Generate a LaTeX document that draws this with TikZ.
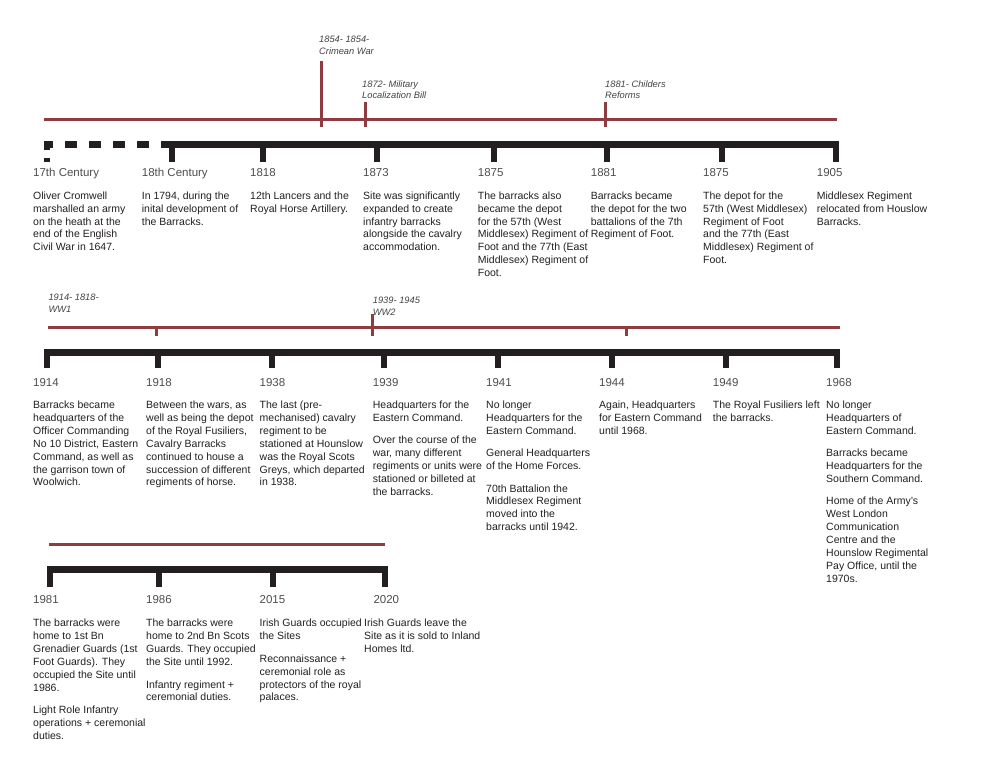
\documentclass[tikz,border=0pt]{standalone}
\usepackage{fontspec}
\setmainfont{Liberation Sans}
\definecolor{barred}{RGB}{142,60,64}
\definecolor{barblack}{RGB}{35,31,32}

\begin{document}
\begin{tikzpicture}[x=1pt,y=-1pt,
  year/.style={anchor=base west,inner sep=0,font=\fontsize{11.5}{13}\selectfont,text=barblack!80},
  desc/.style={anchor=north west,inner sep=0,align=left,font=\fontsize{10.5}{12.9}\selectfont,text=barblack},
  event/.style={anchor=north west,inner sep=0,align=left,font=\fontsize{9.3}{11.5}\selectfont\itshape,text=barblack!85},
  redline/.style={draw=barred,line width=3pt},
  mainline/.style={draw=barblack,line width=7pt},
  tick/.style={draw=barblack,line width=6pt}]

\useasboundingbox (0,0) rectangle (993,762);

% row 1, up to 1905
\coordinate (r1a) at (44,119.3);
\coordinate (r1b) at (837,119.3);
\draw[redline] (r1a) -- (r1b);
\coordinate (crim) at (321.7,61);
\coordinate (mil) at (365,102);
\coordinate (chil) at (605.7,102);
\draw[redline] (crim) -- (crim |- 0,127);
\draw[redline] (mil) -- (mil |- 0,127);
\draw[redline] (chil) -- (chil |- 0,127);
\node[event] (crimtxt) at (319,36) {1854- 1854-\\Crimean War};
\node[event] (miltxt) at (362,80.3) {1872- Military\\Localization Bill};
\node[event] (chiltxt) at (605,80.3) {1881- Childers\\Reforms};

\coordinate (b1a) at (44,144.5);
\coordinate (b1d) at (163,144.5);
\coordinate (b1b) at (839,144.5);
\draw[mainline,dash pattern=on 9pt off 12pt on 12pt off 12pt on 12pt off 12pt on 12pt off 12pt on 12pt off 12pt] (b1a) -- (b1d);
\draw[mainline] (b1d) -- (b1b);
\draw[tick,dash pattern=on 2pt off 8.5pt on 5pt] (47,148) -- (47,162);
\foreach \x/\n in {171.7/b,263/c,376.7/d,494/e,607/f,721.7/g,835.7/h}
  \draw[tick] (\x,144.5) coordinate (t1\n) -- ++(0,17.2);

\node[year] (y1a) at (33,176.7) {17th Century};
\node[year] (y1b) at (141.7,176.7) {18th Century};
\node[year] (y1c) at (250,176.7) {1818};
\node[year] (y1d) at (363,176.7) {1873};
\node[year] (y1e) at (477.7,176.7) {1875};
\node[year] (y1f) at (590.7,176.7) {1881};
\node[year] (y1g) at (703,176.7) {1875};
\node[year] (y1h) at (816.7,176.7) {1905};

\node[desc] (d1a) at (33,191.4) {Oliver Cromwell\\marshalled an army\\on the heath at the\\end of the English\\Civil War in 1647.};
\node[desc] (d1b) at (141.7,191.4) {In 1794, during the\\inital development of\\the Barracks.};
\node[desc] (d1c) at (250,191.4) {12th Lancers and the\\Royal Horse Artillery.};
\node[desc] (d1d) at (363,191.4) {Site was significantly\\expanded to create\\infantry barracks\\alongside the cavalry\\accommodation.};
\node[desc] (d1e) at (477.7,191.4) {The barracks also\\became the depot\\for the 57th (West\\Middlesex) Regiment of\\Foot and the 77th (East\\Middlesex) Regiment of\\Foot.};
\node[desc] (d1f) at (590.7,191.4) {Barracks became\\the depot for the two\\battalions of the 7th\\Regiment of Foot.};
\node[desc] (d1g) at (703,191.4) {The depot for the\\57th (West Middlesex)\\Regiment of Foot\\and the 77th (East\\Middlesex) Regiment of\\Foot.};
\node[desc] (d1h) at (816.7,191.4) {Middlesex Regiment\\relocated from Houslow\\Barracks.};

% row 2, 1914 to 1968
\coordinate (r2a) at (48,327.3);
\coordinate (r2b) at (840,327.3);
\draw[redline] (r2a) -- (r2b);
\coordinate (ww1) at (156,327.3);
\coordinate (ww2) at (372.7,314);
\coordinate (ww3) at (626,327.3);
\draw[redline] (ww1) -- (ww1 |- 0,336);
\draw[redline] (ww2) -- (ww2 |- 0,336);
\draw[redline] (ww3) -- (ww3 |- 0,336);
\node[event] (ww1txt) at (48.3,294) {1914- 1818-\\WW1};
\node[event] (ww2txt) at (372.7,297.3) {1939- 1945\\WW2};

\coordinate (b2a) at (43.7,352);
\coordinate (b2b) at (839.7,352);
\draw[mainline] (b2a) -- (b2b);
\foreach \x/\n in {46.7/a,157.7/b,271.7/c,384/d,498/e,612/f,726/g,836.7/h}
  \draw[tick] (\x,352) coordinate (t2\n) -- ++(0,16);

\node[year] (y2a) at (33,386.7) {1914};
\node[year] (y2b) at (146,386.7) {1918};
\node[year] (y2c) at (259.5,386.7) {1938};
\node[year] (y2d) at (372.7,386.7) {1939};
\node[year] (y2e) at (486,386.7) {1941};
\node[year] (y2f) at (599,386.7) {1944};
\node[year] (y2g) at (712.7,386.7) {1949};
\node[year] (y2h) at (826,386.7) {1968};

\node[desc] (d2a) at (33,400.7) {Barracks became\\headquarters of the\\Officer Commanding\\No 10 District, Eastern\\Command, as well as\\the garrison town of\\Woolwich.};
\node[desc] (d2b) at (146,400.7) {Between the wars, as\\well as being the depot\\of the Royal Fusiliers,\\Cavalry Barracks\\continued to house a\\succession of different\\regiments of horse.};
\node[desc] (d2c) at (259.5,400.7) {The last (pre-\\mechanised) cavalry\\regiment to be\\stationed at Hounslow\\was the Royal Scots\\Greys, which departed\\in 1938.};
\node[desc] (d2d) at (372.7,400.7) {Headquarters for the\\Eastern Command.\\[9.5pt]Over the course of the\\war, many different\\regiments or units were\\stationed or billeted at\\the barracks.};
\node[desc] (d2e) at (486,400.7) {No longer\\Headquarters for the\\Eastern Command.\\[9.5pt]General Headquarters\\of the Home Forces.\\[9.5pt]70th Battalion the\\Middlesex Regiment\\moved into the\\barracks until 1942.};
\node[desc] (d2f) at (599,400.7) {Again, Headquarters\\for Eastern Command\\until 1968.};
\node[desc] (d2g) at (712.7,400.7) {The Royal Fusiliers left\\the barracks.};
\node[desc] (d2h) at (826,400.7) {No longer\\Headquarters of\\Eastern Command.\\[9.5pt]Barracks became\\Headquarters for the\\Southern Command.\\[9.5pt]Home of the Army's\\West London\\Communication\\Centre and the\\Hounslow Regimental\\Pay Office, until the\\1970s.};

% row 3, 1981 to 2020
\coordinate (r3a) at (49,544.3);
\coordinate (r3b) at (385,544.3);
\draw[redline] (r3a) -- (r3b);

\coordinate (b3a) at (47,569.5);
\coordinate (b3b) at (387.7,569.5);
\draw[mainline] (b3a) -- (b3b);
\foreach \x/\n in {50/a,159/b,272.7/c,384.5/d}
  \draw[tick] (\x,569.5) coordinate (t3\n) -- ++(0,17.2);

\node[year] (y3a) at (33,603.3) {1981};
\node[year] (y3b) at (146,603.3) {1986};
\node[year] (y3c) at (259.5,603.3) {2015};
\node[year] (y3d) at (373.3,603.3) {2020};

\node[desc] (d3a) at (33,619.1) {The barracks were\\home to 1st Bn\\Grenadier Guards (1st\\Foot Guards). They\\occupied the Site until\\1986.\\[9.5pt]Light Role Infantry\\operations + ceremonial\\duties.};
\node[desc] (d3b) at (146,619.1) {The barracks were\\home to 2nd Bn Scots\\Guards. They occupied\\the Site until 1992.\\[9.5pt]Infantry regiment +\\ceremonial duties.};
\node[desc] (d3c) at (259.5,619.1) {Irish Guards occupied\\the Sites\\[9.5pt]Reconnaissance +\\ceremonial role as\\protectors of the royal\\palaces.};
\node[desc] (d3d) at (364,619.1) {Irish Guards leave the\\Site as it is sold to Inland\\Homes ltd.};
\end{tikzpicture}
\end{document}
